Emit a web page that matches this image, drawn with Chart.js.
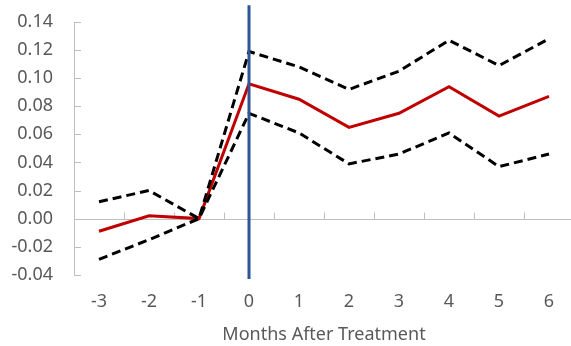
<!DOCTYPE html>
<html>
<head>
<meta charset="utf-8">
<script src="https://cdn.jsdelivr.net/npm/chart.js@4.4.1/dist/chart.umd.min.js"></script>
<style>
  html, body { margin: 0; padding: 0; background: #fff; overflow: hidden; }
  #wrap { width: 574px; height: 346px; }
</style>
</head>
<body>
<div id="wrap"><canvas id="chart"></canvas></div>
<script>
// months relative to treatment
const months = ["-3", "-2", "-1", "0", "1", "2", "3", "4", "5", "6"];
// point estimate
const estimate = [-0.009, 0.002, 0.000, 0.096, 0.085, 0.065, 0.075, 0.094, 0.073, 0.087];
// confidence bounds
const upper = [0.012, 0.020, 0.000, 0.119, 0.108, 0.092, 0.105, 0.127, 0.109, 0.128];
const lower = [-0.029, -0.015, 0.000, 0.075, 0.061, 0.039, 0.046, 0.061, 0.037, 0.046];
// y ticks
const yMin = -0.04, yMax = 0.14, yStep = 0.02;
const treatMonth = "0";

const axisGrey = "#BFBFBF";
const textGrey = "#595959";
const fontFam = "'Noto Sans', 'Open Sans', sans-serif";

// zero line, inside tick marks and treatment marker
const extras = {
  id: "extras",
  beforeDatasetsDraw(chart) {
    const { ctx, chartArea, scales } = chart;
    const x = scales.x, y = scales.y;
    const y0 = Math.round(y.getPixelForValue(0)) + 0.5;
    ctx.save();
    ctx.strokeStyle = axisGrey;
    ctx.lineWidth = 1;
    ctx.beginPath();
    ctx.moveTo(chartArea.left, y0);
    ctx.lineTo(chartArea.right, y0);
    // x tick marks between categories, pointing up
    for (let i = 1; i < months.length; i++) {
      const px = Math.round((x.getPixelForValue(i - 1) + x.getPixelForValue(i)) / 2) + 0.5;
      ctx.moveTo(px, y0);
      ctx.lineTo(px, y0 - 7);
    }
    // y tick marks pointing right
    for (let v = yMin; v <= yMax + 1e-9; v += yStep) {
      const py = Math.round(y.getPixelForValue(v)) + 0.5;
      ctx.moveTo(chartArea.left, py);
      ctx.lineTo(chartArea.left + 7, py);
    }
    ctx.stroke();
    ctx.restore();
  },
  afterDatasetsDraw(chart) {
    const { ctx, scales } = chart;
    const px = scales.x.getPixelForValue(months.indexOf(treatMonth));
    ctx.save();
    ctx.strokeStyle = "#2F5597";
    ctx.lineWidth = 3;
    ctx.beginPath();
    ctx.moveTo(px, scales.y.getPixelForValue(0.152));
    ctx.lineTo(px, scales.y.getPixelForValue(-0.043));
    ctx.stroke();
    ctx.restore();
  }
};

const dashed = {
  borderColor: "#000000",
  borderWidth: 3,
  borderDash: [9, 5],
  borderCapStyle: "butt",
  pointRadius: 0,
  tension: 0,
  fill: false
};

new Chart(document.getElementById("chart"), {
  type: "line",
  plugins: [extras],
  data: {
    labels: months,
    datasets: [
      { label: "Upper", data: upper, ...dashed },
      { label: "Lower", data: lower, ...dashed },
      {
        label: "Estimate",
        data: estimate,
        borderColor: "#C00000",
        borderWidth: 3,
        pointRadius: 0,
        tension: 0,
        fill: false
      }
    ]
  },
  options: {
    responsive: true,
    maintainAspectRatio: false,
    animation: false,
    layout: { padding: { left: 8, right: 0, top: 22, bottom: 0 } },
    plugins: {
      legend: { display: false },
      tooltip: { enabled: false }
    },
    scales: {
      x: {
        offset: true,
        grid: { display: false },
        border: { display: false },
        afterFit: (s) => { s.paddingLeft = 0; s.paddingRight = 0; },
        ticks: { color: textGrey, font: { family: fontFam, size: 18 }, padding: 8, maxRotation: 0 },
        title: {
          display: true,
          text: "Months After Treatment",
          color: textGrey,
          font: { family: fontFam, size: 18 },
          padding: { top: 4, bottom: 0 }
        }
      },
      y: {
        min: yMin,
        max: yMax,
        grid: { display: false, drawTicks: false },
        border: { display: true, color: axisGrey, width: 1 },
        afterFit: (s) => { s.width = 66; s.paddingTop = 0; s.paddingBottom = 0; },
        ticks: {
          stepSize: yStep,
          color: textGrey,
          font: { family: fontFam, size: 18 },
          padding: 21,
          callback: (v) => v.toFixed(2)
        }
      }
    }
  }
});
</script>
</body>
</html>
